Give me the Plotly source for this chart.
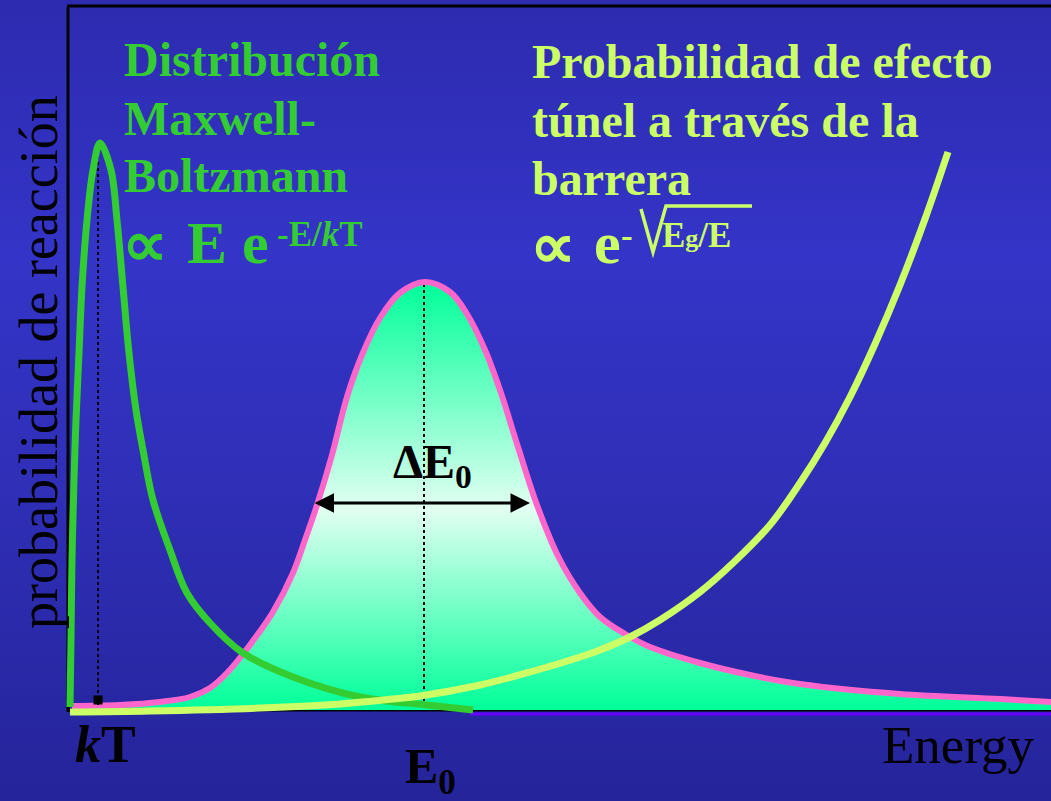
import plotly.graph_objects as go

W, H = 1051, 801

# ---------------- data (arbitrary energy / probability units) -------------
energy_mb = [0.2, 0.3, 0.4, 0.6, 0.8, 1.1, 1.4, 1.9, 2.5, 3.2, 4.3, 4.9, 5.5, 6.1, 6.8, 7.5, 8.5,
             10.2, 11.9, 14.2, 17.5, 22.5, 29.2, 35.9, 40.5]
prob_mb = [0.3, 7.0, 15.0, 23.0, 29.0, 35.7, 42.3, 49.0, 54.0, 56.7, 54.0, 49.0, 42.3, 35.7, 30.0,
           26.0, 21.0, 16.0, 11.7, 8.7, 5.7, 3.3, 1.3, 0.5, 0.0]

energy_gamow = [0.4, 5.2, 9.2, 12.2, 14.2, 15.9, 17.5, 19.0, 20.5, 22.5, 23.7, 24.9, 26.4,
                27.9, 29.4, 31.2, 33.2, 35.7, 38.2, 39.9, 41.7, 43.2, 45.0, 46.9, 49.0, 51.2,
                53.2, 55.7, 58.2, 63.2, 68.2, 73.2, 83.2, 93.2, 98.3]
prob_gamow = [0.4, 0.5, 0.8, 1.3, 2.2, 3.7, 5.6, 7.6, 9.8, 13.7, 17.0, 20.5, 25.5,
              31.3, 35.5, 39.2, 41.7, 42.8, 41.8, 39.6, 36.0, 32.0, 26.3, 20.5, 15.4, 11.7,
              9.3, 7.6, 6.3, 4.7, 3.5, 2.6, 1.6, 1.1, 0.8]

energy_tunnel = [0.2, 8.2, 19.2, 27.2, 32.5, 35.2, 41.2, 46.2, 51.2, 53.2, 56.2, 59.2, 63.2, 66.5,
                 70.2, 73.2, 75.7, 78.2, 80.7, 83.2, 85.7, 88.0]
prob_tunnel = [-0.2, -0.1, 0.2, 0.6, 1.1, 1.4, 2.5, 3.8, 5.3, 6.0, 7.3, 9.0, 11.8, 14.7,
               18.5, 22.7, 26.7, 31.3, 36.6, 42.5, 49.1, 55.8]

kT = 3.0
kT_peak = 56.0
E0 = 35.6
E0_peak = 42.5
dE_left, dE_right, dE_level = 24.5, 46.2, 20.7

x_range = [-0.5, 98.3]
y_range = [-1.5, 70.3]

SERIF = "Liberation Serif, Times New Roman, serif"
GREEN = "#33CC33"
PINK = "#FF66CC"
LIME = "#CCFF66"
SMOOTH = 1.0

fig = go.Figure()

# Gamow peak: filled with a vertical gradient
fig.add_trace(go.Scatter(
    x=energy_gamow, y=prob_gamow, mode="lines",
    line=dict(color=PINK, width=6, shape="spline", smoothing=SMOOTH),
    fill="tozeroy",
    fillgradient=dict(type="vertical",
                      colorscale=[[0.0, "#00FF99"], [0.47, "#E2FFF2"], [1.0, "#00FF99"]],
                      start=0, stop=max(prob_gamow)),
    hoverinfo="skip", showlegend=False))

# dotted guide lines
fig.add_trace(go.Scatter(x=[kT, kT], y=[0.5, kT_peak], mode="lines",
                         line=dict(color="black", width=2, dash="dot"),
                         hoverinfo="skip", showlegend=False))
fig.add_trace(go.Scatter(x=[E0, E0], y=[0.3, E0_peak], mode="lines",
                         line=dict(color="black", width=2, dash="dot"),
                         hoverinfo="skip", showlegend=False))

# Maxwell-Boltzmann
fig.add_trace(go.Scatter(x=energy_mb, y=prob_mb, mode="lines",
                         line=dict(color=GREEN, width=7, shape="spline", smoothing=SMOOTH),
                         hoverinfo="skip", showlegend=False))
# tunnelling probability
fig.add_trace(go.Scatter(x=energy_tunnel, y=prob_tunnel, mode="lines",
                         line=dict(color=LIME, width=7, shape="spline", smoothing=SMOOTH),
                         hoverinfo="skip", showlegend=False))
# kT marker
fig.add_trace(go.Scatter(x=[kT], y=[1.0], mode="markers",
                         marker=dict(symbol="square", size=9, color="black"),
                         hoverinfo="skip", showlegend=False))


def px(x):
    return x / W


def py(y):
    return 1 - y / H


# background vertical gradient made of thin strips
stops = [(0.0, (45, 43, 175)), (0.32, (52, 52, 200)), (0.6, (47, 47, 184)), (1.0, (37, 36, 154))]


def bg_color(t):
    for (t0, c0), (t1, c1) in zip(stops[:-1], stops[1:]):
        if t <= t1:
            f = (t - t0) / (t1 - t0)
            return "rgb(%d,%d,%d)" % tuple(round(a + (b - a) * f) for a, b in zip(c0, c1))
    return "rgb(%d,%d,%d)" % stops[-1][1]


shapes = []
N = 100
for i in range(N):
    t = (i + 0.5) / N
    shapes.append(dict(type="rect", xref="paper", yref="paper", x0=0, x1=1,
                       y0=1 - (i + 1) / N - 0.002, y1=1 - i / N + 0.002,
                       fillcolor=bg_color(t), line=dict(width=0), layer="below"))

# frame lines
shapes += [
    dict(type="line", xref="x", yref="y", x0=0, x1=0, y0=-0.2, y1=y_range[1],
         line=dict(color="black", width=3), layer="below"),
    dict(type="line", xref="x", yref="y", x0=0, x1=x_range[1], y0=0, y1=0,
         line=dict(color="black", width=3), layer="below"),
    dict(type="line", xref="paper", yref="paper", x0=px(67), x1=1, y0=py(6), y1=py(6),
         line=dict(color="black", width=3)),
    dict(type="line", xref="paper", yref="paper", x0=px(470), x1=1, y0=py(714), y1=py(714),
         line=dict(color="#6600FF", width=3), layer="below"),
    # radical sign of sqrt(Eg/E)
    dict(type="path", xref="paper", yref="paper",
         path="M %f %f L %f %f L %f %f L %f %f" % (px(641), py(209), px(653), py(252),
                                                   px(666), py(206), px(752), py(206)),
         line=dict(color=LIME, width=3.5)),
]


def txt(s, x, y, size, color, bold=True, anchor="left", angle=0):
    return dict(text=s, x=px(x), y=py(y), xref="paper", yref="paper",
                xanchor=anchor, yanchor="middle", showarrow=False, textangle=angle,
                borderpad=0,
                font=dict(family=SERIF, size=size, color=color,
                          weight="bold" if bold else "normal"))


annotations = [
    txt("Distribución", 123, 60, 48, GREEN),
    txt("Maxwell-", 123, 118, 48, GREEN),
    txt("Boltzmann", 123, 176, 48, GREEN),
    txt("∝", 121, 244, 64, GREEN),
    txt("E e", 186, 243, 60, GREEN),
    txt("-E/<i>k</i>T", 276, 234, 35, GREEN),

    txt("Probabilidad de efecto", 531, 62, 48, LIME),
    txt("túnel a través de la", 531, 120, 48, LIME),
    txt("barrera", 531, 178, 48, LIME),
    txt("∝", 529, 247, 64, LIME),
    txt("e", 593, 243, 60, LIME),
    txt("-", 620, 235, 35, LIME),
    txt("E<span style='font-size:26px'>g</span>/E", 661, 235, 35, LIME),

    txt("<i>k</i>T", 74, 744, 52, "black"),
    txt("E<sub>0</sub>", 404, 770, 50, "black"),
    txt("ΔE<sub>0</sub>", 392, 465, 48, "black"),
    txt("Energy", 881, 745, 53, "black", bold=False),
    txt("probabilidad de reacción", 39, 362, 54, "black", bold=False, anchor="center", angle=-90),

    dict(x=dE_right, y=dE_level, ax=dE_left, ay=dE_level, xref="x", yref="y",
         axref="x", ayref="y", text="", showarrow=True, arrowhead=2, arrowside="end+start",
         arrowwidth=3, arrowsize=1.3, arrowcolor="black", font=dict(size=2)),
]

fig.update_layout(
    width=W, height=H,
    margin=dict(l=0, r=0, t=0, b=0),
    paper_bgcolor="rgb(47,47,184)",
    plot_bgcolor="rgba(0,0,0,0)",
    shapes=shapes,
    annotations=annotations,
    showlegend=False,
    xaxis=dict(range=x_range, domain=[63 / W, 1], showgrid=False, zeroline=False,
               showticklabels=False, ticks="", showline=False, fixedrange=True),
    yaxis=dict(range=y_range, domain=[1 - 725 / H, 1 - 7 / H], showgrid=False, zeroline=False,
               showticklabels=False, ticks="", showline=False, fixedrange=True),
)

fig.write_html("out.html", config={"displayModeBar": False},
               post_script="document.body.style.margin='0px';document.body.style.overflow='hidden';")
